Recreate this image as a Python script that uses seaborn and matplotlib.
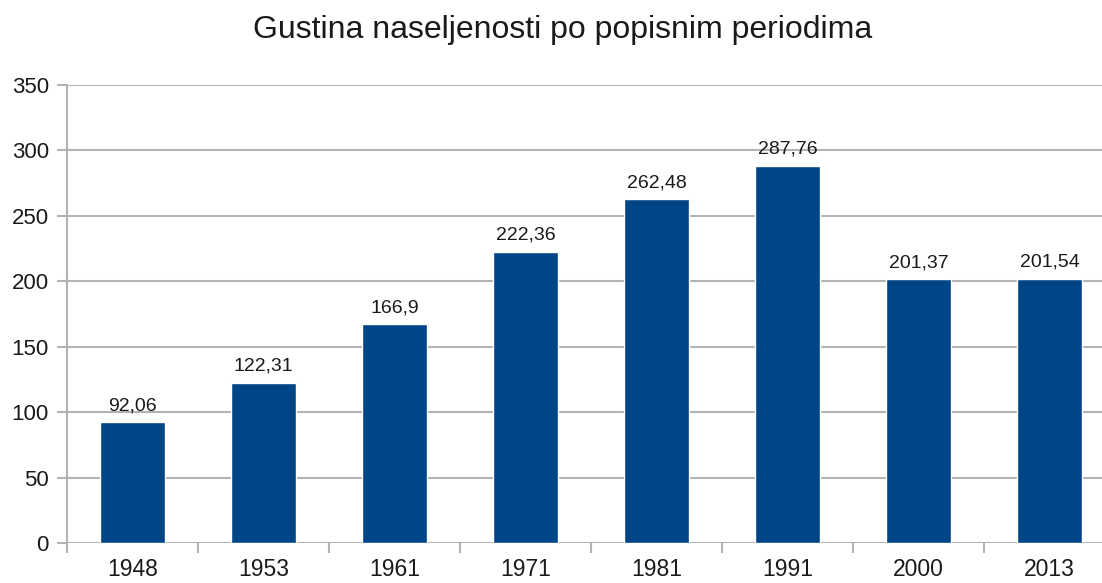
import matplotlib
matplotlib.use("Agg")
import matplotlib.pyplot as plt
import pandas as pd
import seaborn as sns
from matplotlib.ticker import FixedLocator

# Data
years = ["1948", "1953", "1961", "1971", "1981", "1991", "2000", "2013"]
density = [92.06, 122.31, 166.9, 222.36, 262.48, 287.76, 201.37, 201.54]
labels = ["92,06", "122,31", "166,9", "222,36", "262,48", "287,76", "201,37", "201,54"]

BAR_COLOR = "#004586"
GRID_COLOR = "#b3b3b3"
TEXT_COLOR = "#1a1a1a"

sns.set_style("white")
plt.rcParams["font.family"] = ["Liberation Sans", "DejaVu Sans"]

df = pd.DataFrame({"year": years, "density": density})

fig = plt.figure(figsize=(11.02, 5.83), dpi=100)
ax = fig.add_axes([0.0608, 0.0686, 0.951, 0.786])

sns.barplot(data=df, x="year", y="density", color=BAR_COLOR, width=0.5,
            saturation=1, ax=ax, zorder=3)

for i, (v, lab) in enumerate(zip(density, labels)):
    ax.annotate(lab, (i, v), xytext=(0, 6), textcoords="offset points",
                ha="center", va="bottom", fontsize=14, color=TEXT_COLOR)

ax.set_ylim(0, 350)
ax.set_yticks(range(0, 351, 50))
ax.set_xlim(-0.5, len(years) - 0.5)
ax.grid(axis="y", color=GRID_COLOR, linewidth=1.5, zorder=0)
ax.set_axisbelow(True)

for s in ["top", "right", "bottom"]:
    ax.spines[s].set_visible(False)
ax.spines["left"].set_color(GRID_COLOR)
ax.spines["left"].set_linewidth(1.5)

# category boundary ticks below the axis
ax.xaxis.set_minor_locator(FixedLocator([i - 0.5 for i in range(len(years) + 1)]))
ax.tick_params(axis="x", which="major", bottom=True, length=0, pad=11,
               labelsize=16.5, labelcolor=TEXT_COLOR)
ax.tick_params(axis="x", which="minor", bottom=True, length=7, width=1.5,
               color=GRID_COLOR, direction="out")
ax.tick_params(axis="y", which="major", length=7, width=1.5, color=GRID_COLOR,
               pad=6, labelsize=16, labelcolor=TEXT_COLOR, left=True)

ax.set_xlabel("")
ax.set_ylabel("")
fig.suptitle("Gustina naseljenosti po popisnim periodima", fontsize=23,
             color=TEXT_COLOR, y=0.975, x=0.511)

fig.savefig("out.png", dpi=100)
